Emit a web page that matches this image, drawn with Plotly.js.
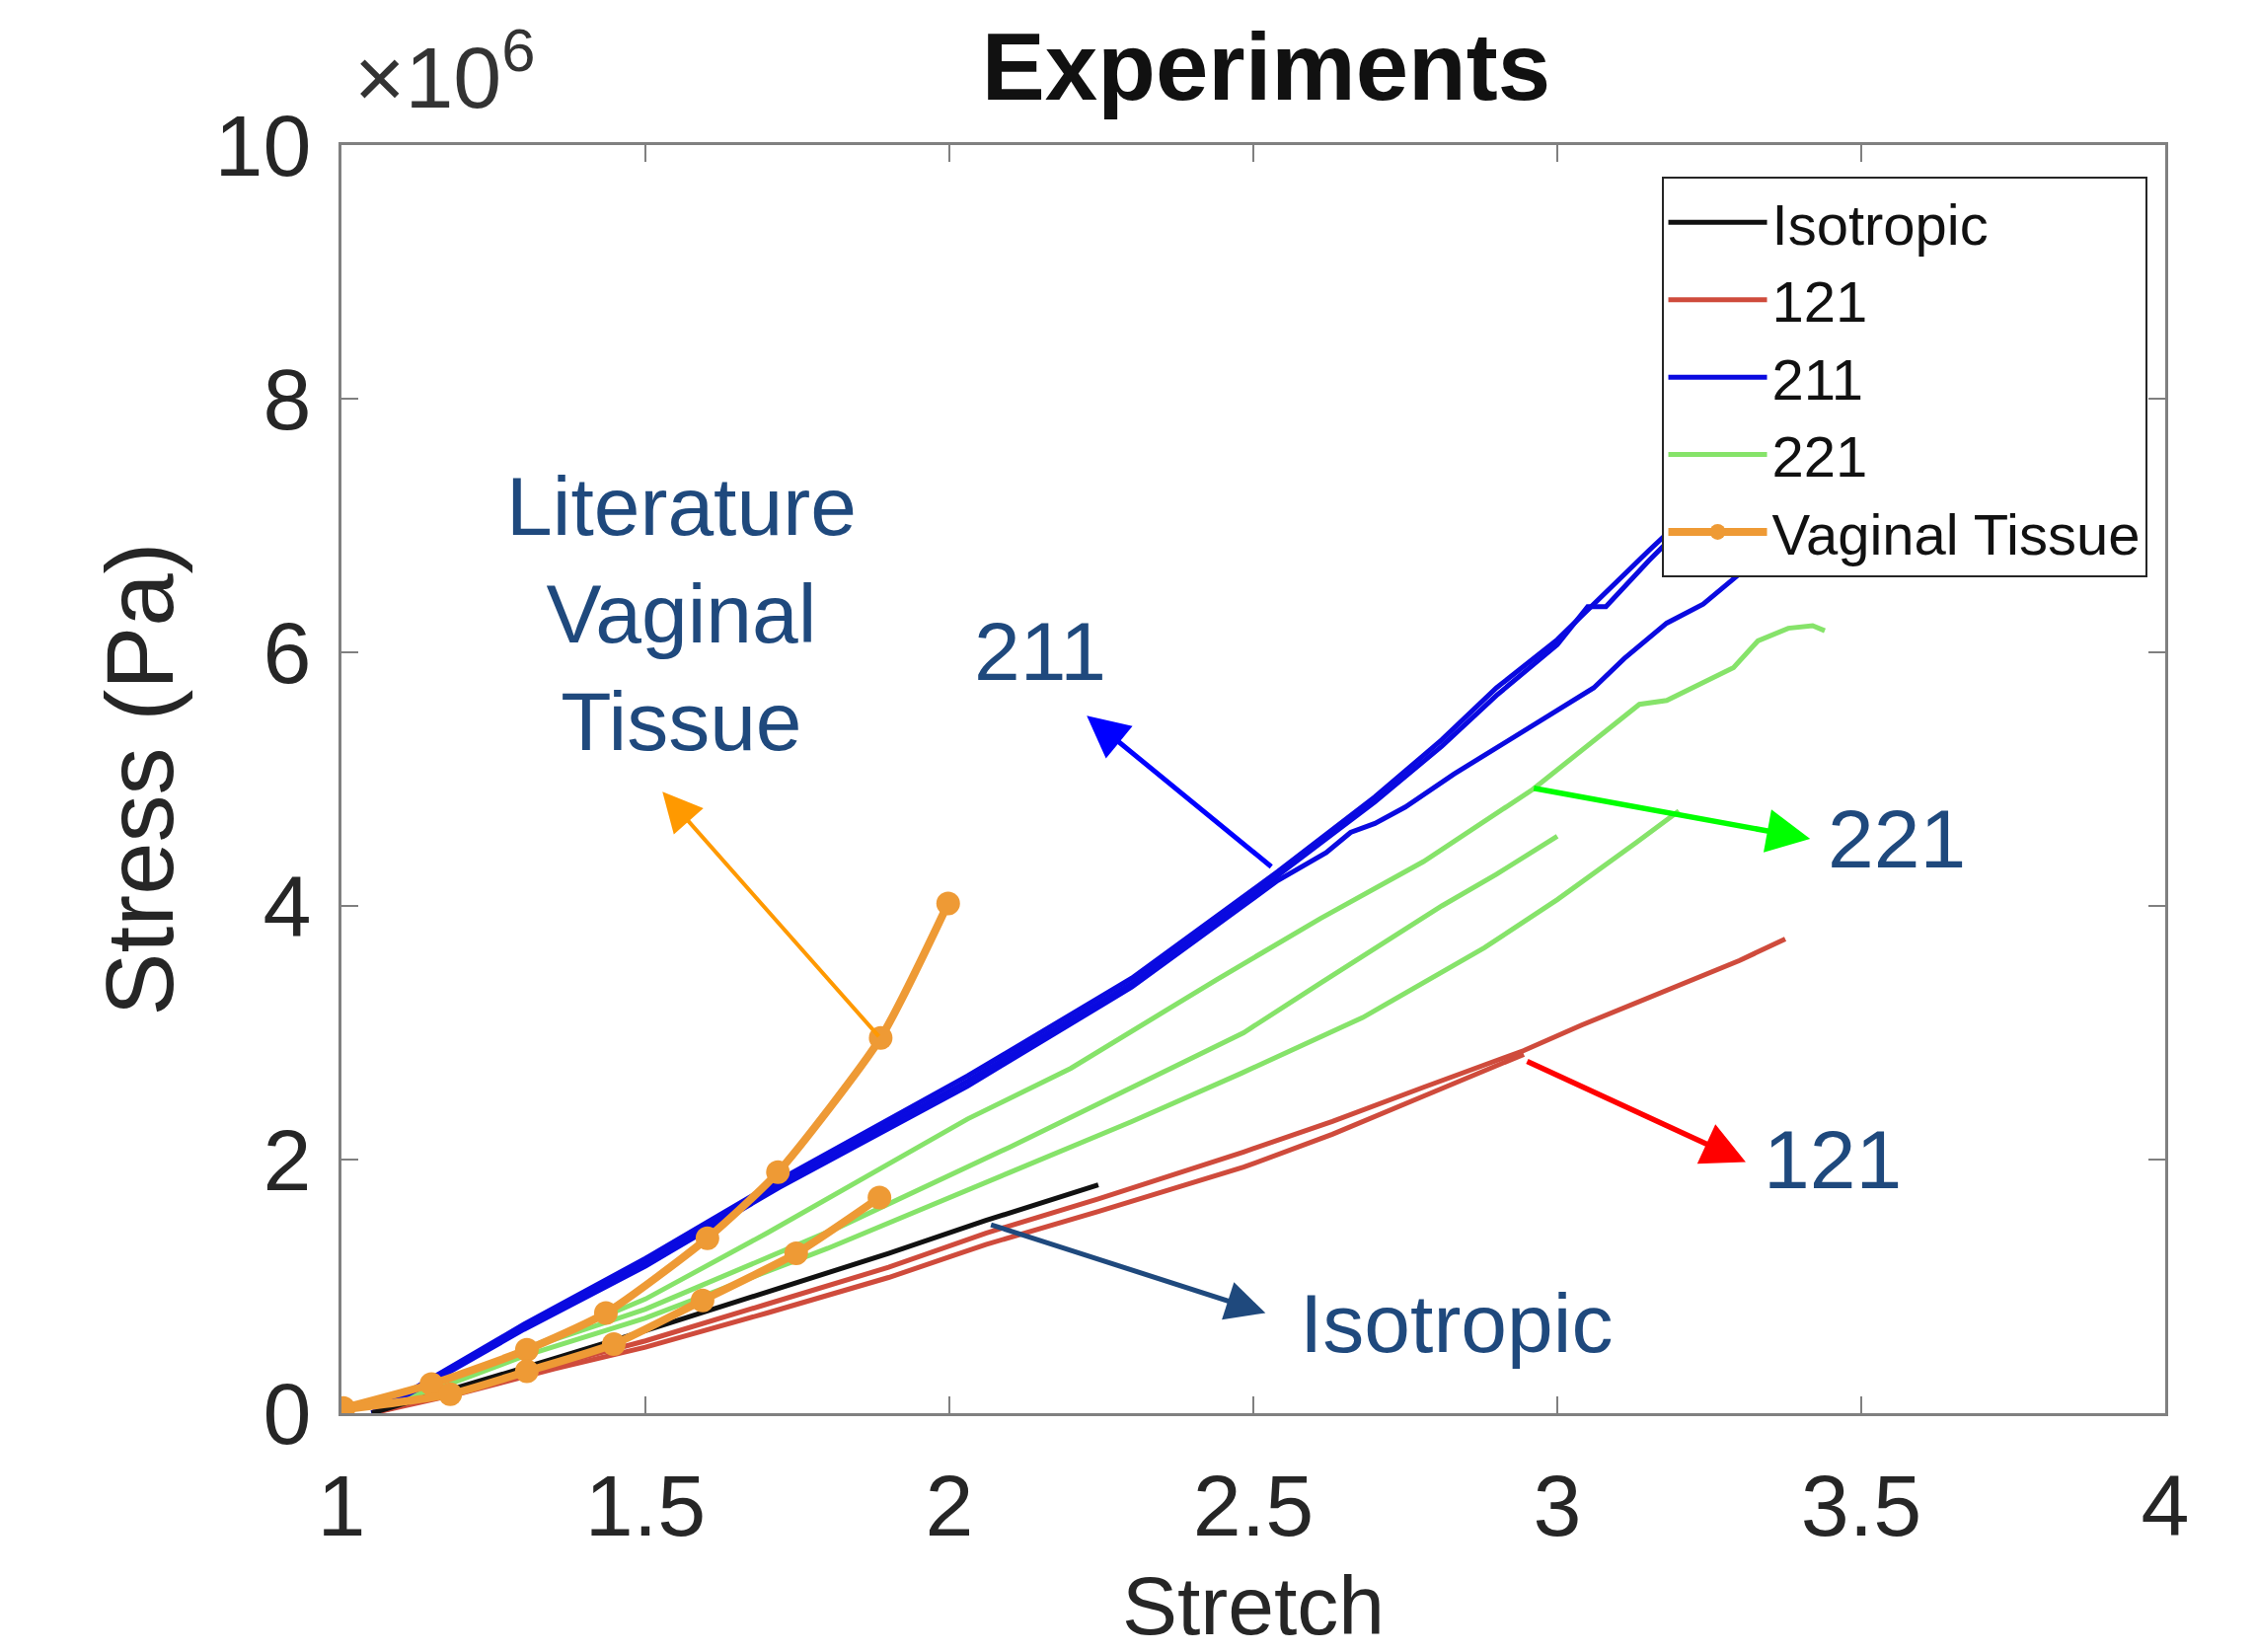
<!DOCTYPE html>
<html>
<head>
<meta charset="utf-8">
<script src="https://cdn.plot.ly/plotly-3.0.1.min.js"></script>
<style>html,body{margin:0;padding:0;background:#fff;}#chart{width:2286px;height:1674px;}</style>
</head>
<body>
<div id="chart"></div>
<script>
// ---- Data (stress in units of 1e6 Pa) ----
const isoStretch = [1.05, 1.2, 1.35, 1.5, 1.7, 1.9, 2.06, 2.245];
const isoStress  = [0, 0.21, 0.43, 0.65, 0.96, 1.26, 1.52, 1.80];

const r121aStretch = [1.05, 1.2, 1.35, 1.5, 1.7, 1.9, 2.06, 2.245, 2.484, 2.63, 2.78, 2.945, 3.04, 3.18, 3.3, 3.375];
const r121aStress  = [0, 0.18, 0.38, 0.57, 0.86, 1.15, 1.42, 1.69, 2.06, 2.30, 2.57, 2.86, 3.06, 3.33, 3.57, 3.74];
const r121bStretch = [1.05, 1.2, 1.35, 1.5, 1.7, 1.9, 2.06, 2.245, 2.484, 2.63, 2.78, 2.945];
const r121bStress  = [0, 0.16, 0.35, 0.52, 0.79, 1.07, 1.33, 1.59, 1.94, 2.20, 2.50, 2.83];

const b211aStretch = [1.05, 1.15, 1.3, 1.5, 1.72, 2.03, 2.3, 2.54, 2.7, 2.81, 2.9, 3.0, 3.075, 3.15, 3.25, 3.35];
const b211aStress  = [0, 0.28, 0.7, 1.22, 1.84, 2.66, 3.43, 4.27, 4.86, 5.31, 5.72, 6.1, 6.45, 6.8, 7.25, 7.7];
const b211bStretch = [1.05, 1.15, 1.3, 1.5, 1.72, 2.03, 2.3, 2.54, 2.7, 2.81, 2.9, 3.0, 3.05, 3.08, 3.15, 3.25, 3.35];
const b211bStress  = [0, 0.26, 0.68, 1.19, 1.81, 2.62, 3.39, 4.24, 4.82, 5.26, 5.66, 6.06, 6.36, 6.36, 6.72, 7.2, 7.65];
const b211cStretch = [1.05, 1.15, 1.3, 1.5, 1.72, 2.03, 2.3, 2.54, 2.62, 2.66, 2.70, 2.75, 2.83, 2.95, 3.06, 3.11, 3.18, 3.24, 3.3, 3.4];
const b211cStress  = [0, 0.25, 0.66, 1.16, 1.78, 2.58, 3.36, 4.2, 4.42, 4.58, 4.65, 4.78, 5.04, 5.40, 5.72, 5.95, 6.23, 6.38, 6.62, 7.0];

const g221aStretch = [1.05, 1.2, 1.35, 1.5, 1.7, 1.82, 2.03, 2.2, 2.44, 2.61, 2.78, 2.96, 3.04, 3.135, 3.18, 3.29, 3.33, 3.38, 3.42, 3.44];
const g221aStress  = [0, 0.3, 0.6, 0.9, 1.42, 1.75, 2.32, 2.72, 3.42, 3.9, 4.35, 4.92, 5.23, 5.59, 5.62, 5.88, 6.09, 6.19, 6.21, 6.17];
const g221bStretch = [1.05, 1.3, 1.5, 1.82, 2.1, 2.31, 2.484, 2.61, 2.81, 2.9, 3.0];
const g221bStress  = [0, 0.5, 0.82, 1.47, 2.1, 2.59, 3.0, 3.39, 4.0, 4.25, 4.55];
const g221cStretch = [1.05, 1.3, 1.5, 1.8, 2.1, 2.3, 2.48, 2.68, 2.88, 3.0, 3.13, 3.2];
const g221cStress  = [0, 0.45, 0.75, 1.3, 1.9, 2.3, 2.68, 3.12, 3.67, 4.05, 4.5, 4.75];

const vagAStretch = [1.003, 1.148, 1.305, 1.435, 1.602, 1.718, 1.887, 1.998];
const vagAStress  = [0.04, 0.23, 0.50, 0.79, 1.38, 1.90, 2.96, 4.02];
const vagBStretch = [1.003, 1.179, 1.305, 1.448, 1.594, 1.748, 1.885];
const vagBStress  = [0.03, 0.15, 0.33, 0.545, 0.89, 1.26, 1.70];

const xTicks = [1, 1.5, 2, 2.5, 3, 3.5, 4];
const yTicks = [0, 2, 4, 6, 8, 10];

// ---- Styles ----
const FONT = 'Liberation Sans, Arial, Helvetica, sans-serif';
const C_ISO = '#111111', C_121 = '#CF4B3C', C_211 = '#0A0AE0', C_221 = '#86E36A', C_VAG = '#EE9A35';
const NAVY = '#1F497D';

function line(x, y, name, color, width, show, rank, group) {
  return {type: 'scatter', mode: 'lines', x: x, y: y, name: name,
    legendgroup: group, showlegend: show, legendrank: rank,
    line: {color: color, width: width}, hoverinfo: 'skip'};
}

const traces = [
  line(r121aStretch, r121aStress, '121', C_121, 5, true, 2, 'r'),
  line(r121bStretch, r121bStress, '121', C_121, 5, false, 2, 'r'),
  line(g221aStretch, g221aStress, '221', C_221, 5, true, 4, 'g'),
  line(g221bStretch, g221bStress, '221', C_221, 5, false, 4, 'g'),
  line(g221cStretch, g221cStress, '221', C_221, 5, false, 4, 'g'),
  line(b211aStretch, b211aStress, '211', C_211, 5, true, 3, 'b'),
  line(b211bStretch, b211bStress, '211', C_211, 5, false, 3, 'b'),
  line(b211cStretch, b211cStress, '211', C_211, 5, false, 3, 'b'),
  line(isoStretch, isoStress, 'Isotropic', C_ISO, 5, true, 1, 'i'),
  {type: 'scatter', mode: 'lines+markers', x: vagAStretch, y: vagAStress, name: 'Vaginal Tissue',
   legendgroup: 'v', showlegend: true, legendrank: 5,
   line: {color: C_VAG, width: 8, shape: 'spline', smoothing: 0.6}, marker: {color: C_VAG, size: 24}, hoverinfo: 'skip'},
  {type: 'scatter', mode: 'lines+markers', x: vagBStretch, y: vagBStress, name: 'Vaginal Tissue',
   legendgroup: 'v', showlegend: false, legendrank: 5,
   line: {color: C_VAG, width: 8, shape: 'spline', smoothing: 0.6}, marker: {color: C_VAG, size: 24}, hoverinfo: 'skip'}
];

function arrow(x, y, ax, ay, color, width, size) {
  return {x: x, y: y, ax: ax, ay: ay, xref: 'x', yref: 'y', axref: 'x', ayref: 'y',
    text: '', showarrow: true, arrowhead: 2, arrowsize: size, arrowwidth: width,
    arrowcolor: color, standoff: 0, startstandoff: 0};
}
function label(x, y, text) {
  return {x: x, y: y, xref: 'x', yref: 'y', text: text, showarrow: false,
    font: {family: FONT, size: 84, color: NAVY}, align: 'center', xanchor: 'center', yanchor: 'middle'};
}

const annotations = [
  arrow(1.528, 4.90, 1.886, 2.96, '#FF9900', 4, 2.0),
  arrow(2.226, 5.50, 2.532, 4.30, '#0000FF', 5, 1.7),
  arrow(3.416, 4.53, 2.959, 4.93, '#00FF00', 5.5, 1.6),
  arrow(3.31, 1.98, 2.948, 2.78, '#FF0000', 5.5, 1.6),
  arrow(2.52, 0.79, 2.066, 1.49, NAVY, 5, 1.6),
  label(1.56, 6.30, 'Literature<br>Vaginal<br>Tissue'),
  label(2.149, 6.01, '211'),
  label(3.558, 4.53, '221'),
  label(3.453, 2.0, '121'),
  label(2.834, 0.71, 'Isotropic'),
  {x: 0.006, y: 1.013, xref: 'paper', yref: 'paper', xanchor: 'left', yanchor: 'bottom',
   text: '×10<sup>6</sup>', showarrow: false, font: {family: FONT, size: 88, color: '#333333'}}
];

const axisCommon = {
  showline: true, linecolor: '#808080', linewidth: 3, mirror: 'ticks',
  ticks: 'inside', ticklen: 17, tickwidth: 2, tickcolor: '#808080',
  showgrid: false, zeroline: false,
  tickfont: {family: FONT, size: 88, color: '#262626'}
};

const layout = {
  width: 2286, height: 1674,
  margin: {l: 346, r: 92, t: 147, b: 242, autoexpand: false},
  paper_bgcolor: '#ffffff', plot_bgcolor: '#ffffff',
  font: {family: FONT, color: '#262626'},
  title: {text: '<b>Experiments</b>', font: {family: FONT, size: 96, color: '#111111'},
          xref: 'paper', x: 0.507, xanchor: 'center', yref: 'container', y: 0.96, yanchor: 'middle'},
  xaxis: Object.assign({}, axisCommon, {
    range: [1, 4], tickvals: xTicks, ticktext: xTicks.map(String), ticklabelstandoff: 15,
    title: {text: 'Stretch', font: {family: FONT, size: 84, color: '#262626'}, standoff: 52}
  }),
  yaxis: Object.assign({}, axisCommon, {
    range: [0, 10], tickvals: yTicks, ticktext: yTicks.map(String), ticklabelstandoff: 10,
    title: {text: 'Stress (Pa)', font: {family: FONT, size: 96, color: '#262626'}, standoff: 10}
  }),
  legend: {x: 0.99, y: 0.975, xanchor: 'right', yanchor: 'top',
    bgcolor: '#ffffff', bordercolor: '#262626', borderwidth: 2,
    itemwidth: 100,
    font: {family: FONT, size: 58, color: '#111111'}, tracegroupgap: 0, itemsizing: 'trace'},
  annotations: annotations,
  showlegend: true
};

Plotly.newPlot('chart', traces, layout, {staticPlot: true, displayModeBar: false});
</script>
</body>
</html>
